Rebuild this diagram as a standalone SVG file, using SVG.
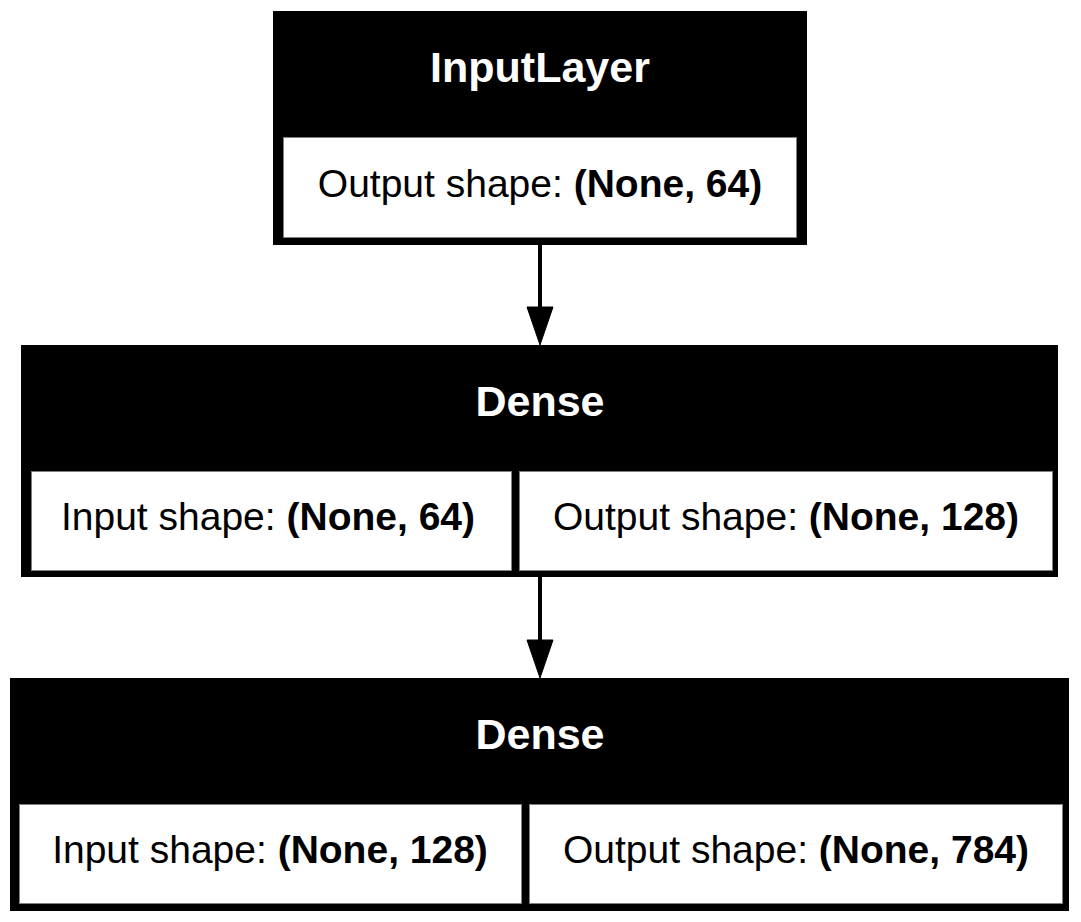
<svg xmlns="http://www.w3.org/2000/svg" width="1081" height="922" viewBox="0 0 1081 922">
  <style>
    .outer { fill: #000000; }
    .cell { fill: #ffffff; stroke: #7f7f7f; stroke-width: 1; }
    .title { font-family: "Liberation Sans", Arial, sans-serif; font-weight: bold; font-size: 43px; fill: #ffffff; }
    .shape { font-family: "Liberation Sans", Arial, sans-serif; font-size: 39px; fill: #000000; }
    .b { font-weight: bold; }
    .edge { stroke: #000000; stroke-width: 4; fill: none; }
    .head { fill: #000000; stroke: #000000; stroke-width: 1; }
  </style>
  <rect width="1081" height="922" fill="#ffffff"/>

  <g id="node-inputlayer">
    <rect class="outer" x="273" y="11" width="534" height="234"/>
    <rect class="cell" x="283.5" y="137.5" width="513" height="100"/>
    <text class="title" x="540" y="82" text-anchor="middle">InputLayer</text>
    <text class="shape" x="540" y="197" text-anchor="middle">Output shape: <tspan class="b">(None, 64)</tspan></text>
  </g>

  <g id="node-dense-1">
    <rect class="outer" x="21" y="345" width="1037" height="232"/>
    <rect class="cell" x="31.5" y="471.5" width="480" height="99"/>
    <rect class="cell" x="519.5" y="471.5" width="533" height="99"/>
    <text class="title" x="540" y="416" text-anchor="middle">Dense</text>
    <text class="shape" x="268" y="530" text-anchor="middle">Input shape: <tspan class="b">(None, 64)</tspan></text>
    <text class="shape" x="786" y="530" text-anchor="middle">Output shape: <tspan class="b">(None, 128)</tspan></text>
  </g>

  <g id="node-dense-2">
    <rect class="outer" x="10" y="678" width="1059" height="233"/>
    <rect class="cell" x="19.5" y="804.5" width="502" height="99"/>
    <rect class="cell" x="529.5" y="804.5" width="533" height="99"/>
    <text class="title" x="540" y="749" text-anchor="middle">Dense</text>
    <text class="shape" x="270" y="863" text-anchor="middle">Input shape: <tspan class="b">(None, 128)</tspan></text>
    <text class="shape" x="796" y="863" text-anchor="middle">Output shape: <tspan class="b">(None, 784)</tspan></text>
  </g>

  <g id="connectors">
    <line class="edge" x1="540" y1="245" x2="540" y2="308"/>
    <polygon class="head" points="527,307 553,307 540,345"/>
    <line class="edge" x1="540" y1="577" x2="540" y2="641"/>
    <polygon class="head" points="527,640 553,640 540,678"/>
  </g>
</svg>
